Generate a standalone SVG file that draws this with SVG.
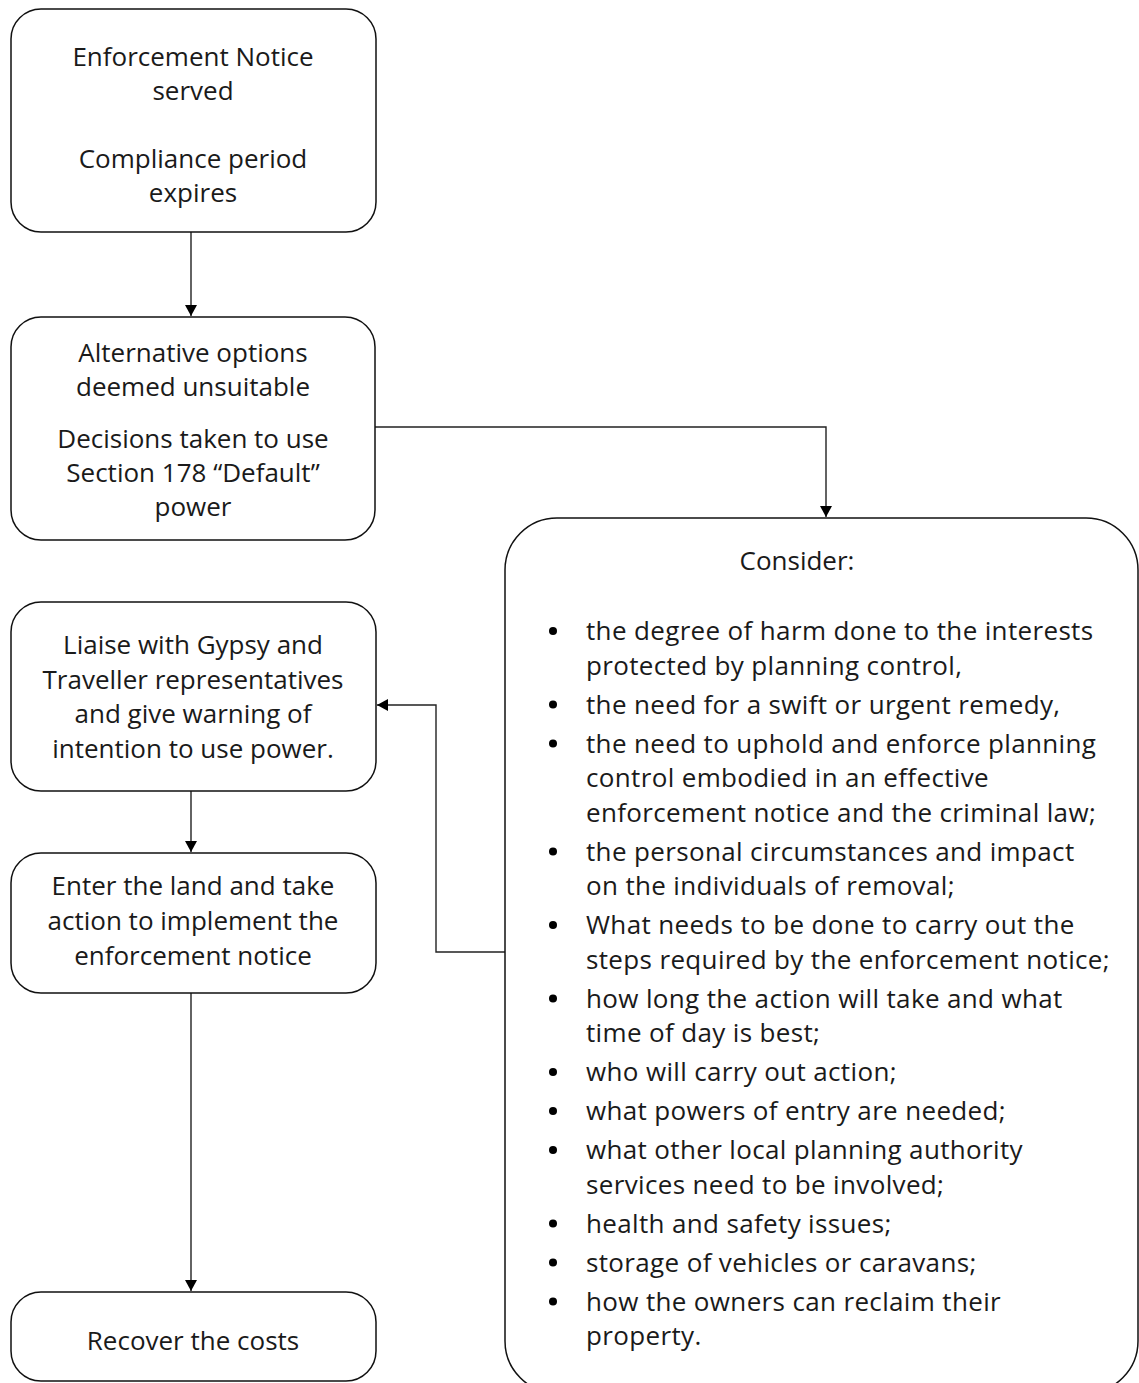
<svg xmlns="http://www.w3.org/2000/svg" width="1139" height="1383" viewBox="0 0 1139 1383">
<style>
.box{fill:#fff;stroke:#111;stroke-width:1.5}
.t{font-family:"Open Sans","Noto Sans",sans-serif;font-size:26px;fill:#1a1a1a}
.c{text-anchor:middle}
.b{letter-spacing:0.35px}
.conn path{fill:none;stroke:#222;stroke-width:1.4}
</style>
<defs>
<marker id="ah" markerUnits="userSpaceOnUse" markerWidth="11" markerHeight="12" refX="11" refY="6" orient="auto">
<path d="M0,0 L11,6 L0,12 z" fill="#000"/>
</marker>
</defs>
<rect width="1139" height="1383" fill="#fff"/>
<g class="conn" id="connectors">
<path d="M191,232 V316" marker-end="url(#ah)"/>
<path d="M375,427 H826 V517" marker-end="url(#ah)"/>
<path d="M505,952 H436 V705 H377" marker-end="url(#ah)"/>
<path d="M191,791 V852" marker-end="url(#ah)"/>
<path d="M191,993 V1291" marker-end="url(#ah)"/>
</g>
<g id="n1">
<rect class="box" x="11" y="9" width="365" height="223" rx="30"/>
<text class="t c" x="193" y="66">Enforcement Notice</text>
<text class="t c" x="193" y="100">served</text>
<text class="t c" x="193" y="168">Compliance period</text>
<text class="t c" x="193" y="202">expires</text>
</g>
<g id="n2">
<rect class="box" x="11" y="317" width="364" height="223" rx="30"/>
<text class="t c" x="193" y="362">Alternative options</text>
<text class="t c" x="193" y="396">deemed unsuitable</text>
<text class="t c" x="193" y="448">Decisions taken to use</text>
<text class="t c" x="193" y="482">Section 178 “Default”</text>
<text class="t c" x="193" y="516">power</text>
</g>
<g id="n3">
<rect class="box" x="11" y="602" width="365" height="189" rx="30"/>
<text class="t c" x="193" y="654">Liaise with Gypsy and</text>
<text class="t c" x="193" y="689">Traveller representatives</text>
<text class="t c" x="193" y="723">and give warning of</text>
<text class="t c" x="193" y="758">intention to use power.</text>
</g>
<g id="n4">
<rect class="box" x="11" y="853" width="365" height="140" rx="30"/>
<text class="t c" x="193" y="895">Enter the land and take</text>
<text class="t c" x="193" y="930">action to implement the</text>
<text class="t c" x="193" y="965">enforcement notice</text>
</g>
<g id="n5">
<rect class="box" x="11" y="1292" width="365" height="89" rx="30"/>
<text class="t c" x="193" y="1350">Recover the costs</text>
</g>
<g id="n6">
<rect class="box" x="505" y="518" width="633" height="875" rx="52"/>
<text class="t c" x="797" y="570">Consider:</text>
<g fill="#000">
<circle cx="553" cy="631" r="4"/>
<circle cx="553" cy="704.5" r="4"/>
<circle cx="553" cy="743.5" r="4"/>
<circle cx="553" cy="851.5" r="4"/>
<circle cx="553" cy="925" r="4"/>
<circle cx="553" cy="998.5" r="4"/>
<circle cx="553" cy="1072" r="4"/>
<circle cx="553" cy="1111" r="4"/>
<circle cx="553" cy="1150" r="4"/>
<circle cx="553" cy="1223.5" r="4"/>
<circle cx="553" cy="1262.5" r="4"/>
<circle cx="553" cy="1301.5" r="4"/>
</g>
<text class="t b" x="586" y="640">the degree of harm done to the interests</text>
<text class="t b" x="586" y="674.5">protected by planning control,</text>
<text class="t b" x="586" y="713.5">the need for a swift or urgent remedy,</text>
<text class="t b" x="586" y="752.5">the need to uphold and enforce planning</text>
<text class="t b" x="586" y="787">control embodied in an effective</text>
<text class="t b" x="586" y="821.5">enforcement notice and the criminal law;</text>
<text class="t b" x="586" y="860.5">the personal circumstances and impact</text>
<text class="t b" x="586" y="895">on the individuals of removal;</text>
<text class="t b" x="586" y="934">What needs to be done to carry out the</text>
<text class="t b" x="586" y="968.5">steps required by the enforcement notice;</text>
<text class="t b" x="586" y="1007.5">how long the action will take and what</text>
<text class="t b" x="586" y="1042">time of day is best;</text>
<text class="t b" x="586" y="1081">who will carry out action;</text>
<text class="t b" x="586" y="1120">what powers of entry are needed;</text>
<text class="t b" x="586" y="1159">what other local planning authority</text>
<text class="t b" x="586" y="1193.5">services need to be involved;</text>
<text class="t b" x="586" y="1232.5">health and safety issues;</text>
<text class="t b" x="586" y="1271.5">storage of vehicles or caravans;</text>
<text class="t b" x="586" y="1310.5">how the owners can reclaim their</text>
<text class="t b" x="586" y="1345">property.</text>
</g>
</svg>
